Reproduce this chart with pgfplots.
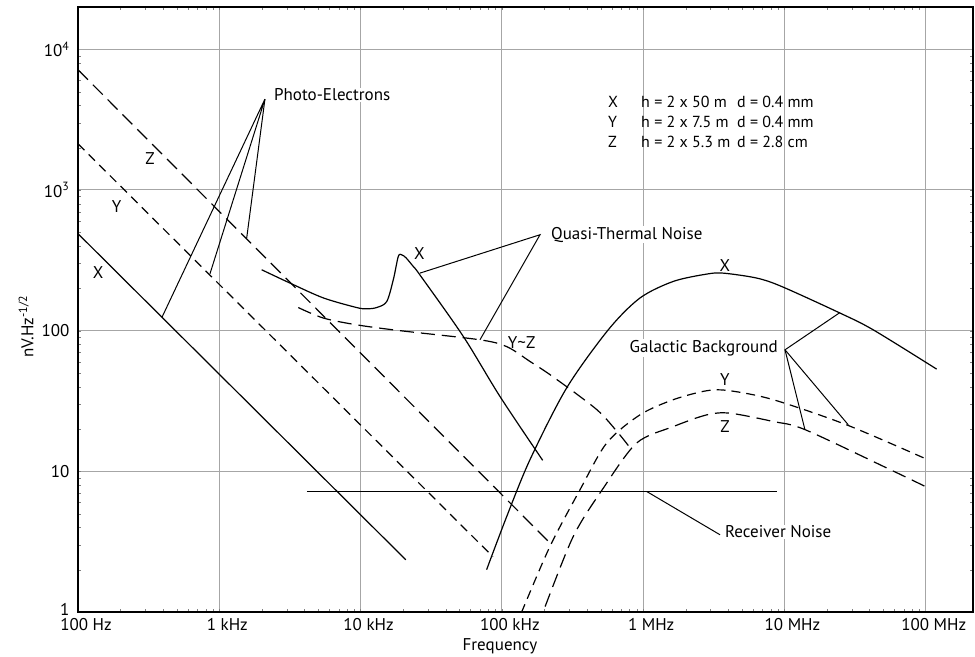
\documentclass[border=0pt]{standalone}
\usepackage{fontspec}
\setmainfont{PT Sans}
\usepackage{pgfplots}
\pgfplotsset{compat=1.18}

\newcommand{\fs}{\fontsize{17}{20}\selectfont}

\begin{document}
\begin{tikzpicture}
\begin{axis}[
    scale only axis,
    width=895pt, height=605pt,
    xmode=log, ymode=log,
    xmin=100, xmax=2.16e8,
    ymin=1, ymax=2e4,
    xtick={1e2,1e3,1e4,1e5,1e6,1e7,1e8},
    xticklabels={100 Hz,1 kHz,10 kHz,100 kHz,1 MHz,10 MHz,100 MHz},
    ytick={1,10,100,1000,10000},
    yticklabels={\raisebox{6pt}{1},10,100,10\textsuperscript{3},10\textsuperscript{4}},
    minor tick num=0,
    major tick length=0pt,
    grid=major,
    major grid style={draw=black!35, line width=1pt},
    axis line style={line width=2.5pt},
    tick label style={font=\fs},
    xticklabel style={anchor=north, xshift=8pt, yshift=-3pt},
    yticklabel style={anchor=east, xshift=-5pt},
    xlabel={Frequency},
    ylabel={nV.Hz\textsuperscript{-1/2}},
    label style={font=\fs},
    xlabel style={at={(axis description cs:0.4715,-0.0574)}, anchor=center},
    ylabel style={at={(axis description cs:-0.058,0.4716)}, anchor=center},
    every axis plot/.append style={black, line width=1.2pt, no markers},
]

% photo-electron noise
\addplot[solid] coordinates {(100,489) (20900,2.35)};
\addplot[dash pattern=on 9pt off 6pt] coordinates {(100,2130) (86500,2.47)};
\addplot[dash pattern=on 14pt off 7pt] coordinates {(100,7150) (226000,3.0)};

% quasi-thermal noise, X
\addplot[smooth] coordinates {
(1995,271) (3162,218) (5445,171) (9376,146) (11040,143) (13000,146)
(15310,161) (17060,231) (18490,337) (19540,346) (20940,330)
(23600,286) (26300,249) (53330,91.0) (97050,34.0) (194500,11.97)
};

% quasi-thermal noise, Y~Z
\addplot[smooth, dash pattern=on 14pt off 7pt] coordinates {
(3622,146) (5445,123) (9376,110) (19010,100) (69980,86.1) (108600,76.9)
(158100,60.4) (230100,47.0) (468800,27.5) (666800,18.7) (807200,14.7)
};

% galactic background, X
\addplot[smooth] coordinates {
(78000,2.0) (108100,4.76) (158100,12.1) (287100,39.1) (566200,101.4)
(948400,170.6) (1.633e6,223.9) (2.812e6,252.4) (3.690e6,256.4)
(6.353e6,236.6) (9.550e6,206.1) (2.472e7,133.4) (4.246e7,101.4)
(1.194e8,53.3)
};

% galactic background, Y
\addplot[smooth, dash pattern=on 9pt off 6pt] coordinates {
(125000,0.79) (138000,1.0) (218800,2.92) (357300,7.40) (552100,15.9)
(948400,25.2) (1.633e6,32.3) (2.812e6,37.4) (4.111e6,37.4)
(8.337e6,32.3) (2.754e7,21.4) (1.014e8,12.2)
};

% galactic background, Z
\addplot[smooth, dash pattern=on 14pt off 7pt] coordinates {
(178200,0.794) (195400,1.0) (319900,3.44) (522400,7.60) (899500,15.9)
(1.633e6,20.8) (2.818e6,25.2) (4.111e6,25.9) (8.337e6,22.6)
(1.396e7,19.8) (5.585e7,10.3) (9.886e7,7.82)
};

% receiver noise
\addplot[solid] coordinates {(4160,7.19) (8.81e6,7.19)};

% leaders
\draw[line width=1pt] (axis cs:393,124.5) -- (axis cs:2104,4426) -- (axis cs:859,253.6);
\draw[line width=1pt] (axis cs:2104,4426) -- (axis cs:1563,455);
\draw[line width=1pt] (axis cs:26300,256.5) -- (axis cs:186200,480.8) -- (axis cs:69980,86.1);
\draw[line width=1pt] (axis cs:2.472e7,134.6) -- (axis cs:1.009e7,73.1) -- (axis cs:2.831e7,21.4);
\draw[line width=1pt] (axis cs:1.009e7,73.1) -- (axis cs:1.396e7,19.8);
\draw[line width=1pt] (axis cs:1.059e6,7.19) -- (axis cs:3.5e6,3.54);

\tikzset{lab/.style={font=\fs, fill=white, inner sep=1pt}}
\node[lab, anchor=west] at (axis cs:2399,4750) {Photo-Electrons};
\node[lab, anchor=west] at (axis cs:218800,481) {Quasi-Thermal Noise};
\node[lab, anchor=east] at (axis cs:9.14e6,75.5) {Galactic Background};
\node[lab, anchor=west] at (axis cs:3.73e6,3.72) {Receiver Noise};

\tikzset{cl/.style={font=\fs, inner sep=0pt}}
\node[cl] at (axis cs:138.7,257.8) {X};
\node[cl] at (axis cs:187.9,763.8) {Y};
\node[cl] at (axis cs:323.6,1687) {Z};
\node[cl] at (axis cs:26060,355.6) {X};
\node[cl] at (axis cs:138000,81.7) {Y\textasciitilde Z};
\node[cl] at (axis cs:3.793e6,289.1) {X};
\node[cl] at (axis cs:3.793e6,44.8) {Y};
\node[cl] at (axis cs:3.793e6,20.8) {Z};

\tikzset{lg/.style={font=\fontsize{16}{19}\selectfont, inner sep=0pt, anchor=base west}}
\node[lg] at (axis cs:563700,3870) {X};
\node[lg] at (axis cs:966000,3870) {h = 2 x 50 m};
\node[lg] at (axis cs:4.613e6,3870) {d = 0.4 mm};
\node[lg] at (axis cs:563700,2790) {Y};
\node[lg] at (axis cs:966000,2790) {h = 2 x 7.5 m};
\node[lg] at (axis cs:4.613e6,2790) {d = 0.4 mm};
\node[lg] at (axis cs:563700,2010) {Z};
\node[lg] at (axis cs:966000,2010) {h = 2 x 5.3 m};
\node[lg] at (axis cs:4.613e6,2010) {d = 2.8 cm};
\end{axis}
\pgfresetboundingbox
\path ([shift={(-78pt,-45pt)}]current axis.south west) rectangle ([shift={(2pt,7pt)}]current axis.north east);
\end{tikzpicture}
\end{document}
